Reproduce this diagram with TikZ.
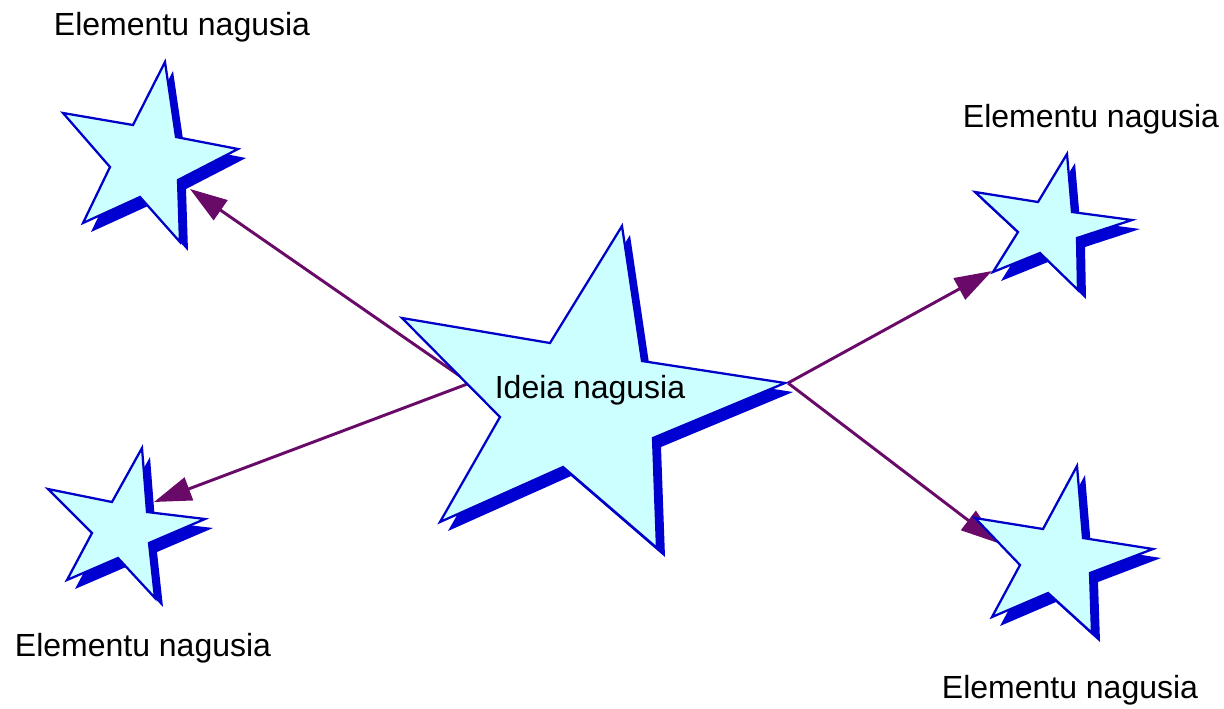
\documentclass[tikz,border=0pt]{standalone}
\usepackage{fontspec}
\setmainfont{Liberation Sans}
\usetikzlibrary{arrows.meta}
\definecolor{starfill}{RGB}{204,255,255}
\definecolor{starline}{RGB}{0,0,200}
\definecolor{shadowcol}{RGB}{0,0,210}
\definecolor{arrowcol}{RGB}{105,10,105}
\newcommand{\drawmystar}[1]{%
  \fill[shadowcol, shift={(8,9)}] #1 -- cycle;
  \filldraw[starbox] #1 -- cycle;}
\begin{document}
\begin{tikzpicture}[x=0.75pt,y=-0.75pt,
  starbox/.style={fill=starfill, draw=starline, line width=1.7pt, line join=miter},
  conn/.style={draw=arrowcol, line width=2.2pt, -{Triangle[length=28pt,width=18pt]}},
  lbl/.style={font=\fontsize{24pt}{28pt}\selectfont, anchor=base, inner sep=0pt}]
\useasboundingbox (0,0) rectangle (1224,708);
\fill[white] (0,0) rectangle (1224,708);

% connector ends
\coordinate (cL) at (470,383);
\coordinate (cR) at (788,383);
\coordinate (tlTip) at (190,189);
\coordinate (blTip) at (154,502);
\coordinate (trTip) at (992,271);
\coordinate (brTip) at (998,543);

% connectors (under the stars)
\draw[conn] (cL) -- (tlTip);
\draw[conn] (cL) -- (blTip);
\draw[conn] (cR) -- (trTip);
\draw[conn] (cR) -- (brTip);

% top-left star
\drawmystar{(165,62) -- (176,137) -- (238,149) -- (178,180) -- (180,242) -- (140,197) -- (83,223) -- (110,167) -- (63,113) -- (133,125)}
% bottom-left star
\drawmystar{(142,448) -- (147,512) -- (205,519) -- (149,543) -- (155,598) -- (118,558) -- (67,580) -- (92,533) -- (48,489) -- (112,502)}
% top-right star
\drawmystar{(1067,154) -- (1072,212) -- (1132,220) -- (1077,238) -- (1078,290) -- (1040,253) -- (993,272) -- (1018,232) -- (975,192) -- (1038,202)}
% bottom-right star
\drawmystar{(1077,466) -- (1083,538) -- (1153,549) -- (1090,573) -- (1092,633) -- (1048,593) -- (992,617) -- (1020,565) -- (975,518) -- (1043,529)}
% central star
\drawmystar{(622,226) -- (642,361) -- (785,383) -- (653,438) -- (657,548) -- (563,467) -- (440,522) -- (500,417) -- (402,318) -- (550,343)}

% labels
\node[lbl] (main) at (590,398) {Ideia nagusia};
\node[lbl] (lblTL) at (182,35) {Elementu nagusia};
\node[lbl] (lblTR) at (1091,127) {Elementu nagusia};
\node[lbl] (lblBL) at (143,656) {Elementu nagusia};
\node[lbl] (lblBR) at (1070,698) {Elementu nagusia};
\end{tikzpicture}
\end{document}
